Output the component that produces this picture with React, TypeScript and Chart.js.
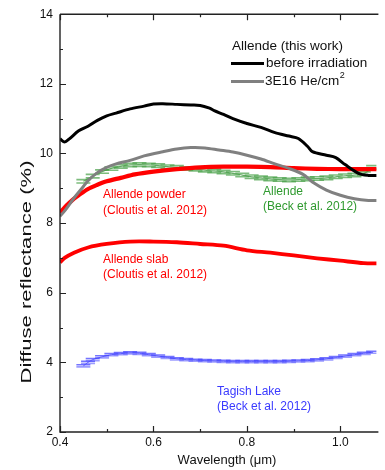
import React, { useEffect, useRef } from "react";
import { Chart, registerables } from "chart.js";

Chart.register(...registerables);

// ---- data ----
const X_BLACK = [0.40,0.41,0.42,0.44,0.46,0.48,0.50,0.52,0.55,0.58,0.60,0.62,0.65,0.68,0.70,0.72,0.73,0.75,0.77,0.80,0.83,0.86,0.89,0.91,0.93,0.94,0.97,0.99,1.01,1.04,1.06,1.08];
const Y_BLACK = [10.42,10.33,10.42,10.65,10.78,10.95,11.08,11.16,11.28,11.36,11.42,11.43,11.41,11.39,11.38,11.3,11.23,11.12,11.0,10.86,10.75,10.6,10.5,10.43,10.2,10.05,9.95,9.88,9.68,9.42,9.37,9.37];

const X_GRAY = [0.40,0.41,0.43,0.45,0.46,0.48,0.50,0.52,0.55,0.58,0.62,0.65,0.68,0.71,0.74,0.77,0.80,0.83,0.86,0.89,0.92,0.94,0.97,1.00,1.03,1.06,1.08];
const Y_GRAY = [8.2,8.35,8.72,9.05,9.22,9.45,9.6,9.7,9.8,9.93,10.05,10.13,10.17,10.16,10.1,10.04,9.95,9.84,9.7,9.57,9.4,9.18,8.95,8.8,8.7,8.65,8.65];

const X_POWDER = [0.40,0.41,0.42,0.43,0.44,0.46,0.48,0.50,0.53,0.56,0.60,0.65,0.70,0.75,0.80,0.85,0.90,0.95,1.00,1.05,1.08];
const Y_POWDER = [8.3,8.45,8.58,8.7,8.8,8.98,9.1,9.2,9.3,9.4,9.48,9.55,9.6,9.62,9.62,9.61,9.58,9.56,9.55,9.55,9.55];

const X_SLAB = [0.40,0.41,0.43,0.46,0.50,0.55,0.60,0.65,0.70,0.75,0.80,0.85,0.90,0.95,1.00,1.05,1.08];
const Y_SLAB = [6.87,7.0,7.15,7.3,7.4,7.47,7.47,7.45,7.4,7.35,7.22,7.15,7.07,6.99,6.92,6.85,6.84];

const X_BECK = [0.45,0.47,0.49,0.51,0.53,0.55,0.57,0.59,0.61,0.63,0.65,0.67,0.69,0.71,0.73,0.75,0.77,0.79,0.81,0.83,0.85,0.87,0.89,0.91,0.93,0.95,0.97,0.99,1.01,1.03,1.05,1.07];
const Y_BECK = [9.2,9.35,9.48,9.57,9.63,9.67,9.68,9.67,9.65,9.62,9.6,9.57,9.55,9.52,9.5,9.47,9.43,9.38,9.33,9.3,9.27,9.25,9.24,9.25,9.27,9.28,9.3,9.33,9.36,9.38,9.42,9.6];

const X_TAGISH = [0.45,0.46,0.47,0.49,0.51,0.53,0.55,0.57,0.59,0.61,0.63,0.65,0.67,0.69,0.71,0.73,0.75,0.77,0.79,0.81,0.83,0.85,0.87,0.89,0.91,0.93,0.95,0.97,0.99,1.01,1.03,1.05,1.07];
const Y_TAGISH = [3.9,4.0,4.08,4.16,4.22,4.25,4.27,4.26,4.22,4.18,4.14,4.1,4.08,4.06,4.05,4.04,4.03,4.02,4.02,4.02,4.02,4.02,4.02,4.03,4.04,4.05,4.07,4.1,4.14,4.18,4.22,4.26,4.29];

const X_MIN = 0.4;
const X_MAX = 1.077;
const Y_MIN = 2;
const Y_MAX = 14;
const X_TICKS = [0.4, 0.5, 0.6, 0.7, 0.8, 0.9, 1.0];
const Y_TICKS = [2, 3, 4, 5, 6, 7, 8, 9, 10, 11, 12, 13, 14];

const FONT = "'Liberation Sans', Arial, sans-serif";

const pts = (xs: number[], ys: number[], dy = 0) => xs.map((x, i) => ({ x, y: ys[i] + dy }));

const framePlugin = {
  id: "frame",
  afterDraw(chart: any) {
    const { ctx, chartArea: a, scales } = chart;
    const xs = scales.x, ys = scales.y;
    ctx.save();
    ctx.strokeStyle = "#222";
    ctx.lineWidth = 1.4;
    ctx.beginPath();
    ctx.moveTo(a.left, a.top);
    ctx.lineTo(a.left, a.bottom);
    ctx.lineTo(a.right + 2, a.bottom);
    ctx.moveTo(a.left, a.top);
    ctx.lineTo(a.right + 2, a.top);
    ctx.stroke();
    ctx.lineWidth = 1.2;
    ctx.beginPath();
    X_TICKS.forEach((v) => {
      const major = Math.round(v * 10) % 2 === 0;
      const len = major ? 6 : 3;
      const px = Math.round(xs.getPixelForValue(v)) + 0.5;
      ctx.moveTo(px, a.bottom);
      ctx.lineTo(px, a.bottom - len);
      ctx.moveTo(px, a.top);
      ctx.lineTo(px, a.top + len);
    });
    Y_TICKS.forEach((v) => {
      const major = v % 2 === 0;
      const len = major ? 6 : 3;
      const py = Math.round(ys.getPixelForValue(v)) + 0.5;
      ctx.moveTo(a.left, py);
      ctx.lineTo(a.left + len, py);
    });
    ctx.stroke();

    // axis titles
    ctx.fillStyle = "#111";
    ctx.textBaseline = "middle";
    ctx.textAlign = "center";
    ctx.font = `13px ${FONT}`;
    ctx.fillText("Wavelength (μm)", 227, 460);

    ctx.save();
    ctx.translate(27, 272);
    ctx.rotate(-Math.PI / 2);
    ctx.font = `15px ${FONT}`;
    const t = "Diffuse reflectance (%)";
    const w = ctx.measureText(t).width;
    ctx.scale(223 / w, 1);
    ctx.fillText(t, 0, 0);
    ctx.restore();

    // legend
    ctx.textAlign = "left";
    ctx.font = `13.5px ${FONT}`;
    ctx.fillStyle = "#111";
    ctx.fillText("Allende (this work)", 232, 46);
    ctx.lineWidth = 3.2;
    ctx.strokeStyle = "#000";
    ctx.beginPath();
    ctx.moveTo(231, 63.5);
    ctx.lineTo(264, 63.5);
    ctx.stroke();
    ctx.fillText("before irradiation", 266, 63);
    ctx.strokeStyle = "#808080";
    ctx.beginPath();
    ctx.moveTo(231, 81.5);
    ctx.lineTo(264, 81.5);
    ctx.stroke();
    ctx.fillText("3E16 He/cm", 265, 81);
    const wc = ctx.measureText("3E16 He/cm").width;
    ctx.font = `9px ${FONT}`;
    ctx.fillText("2", 265 + wc + 0.5, 76);

    // annotations
    ctx.font = `12px ${FONT}`;
    ctx.fillStyle = "#ff0000";
    ctx.fillText("Allende powder", 103, 195);
    ctx.fillText("(Cloutis et al. 2012)", 103, 210.5);
    ctx.fillText("Allende slab", 103, 260);
    ctx.fillText("(Cloutis et al. 2012)", 103, 275);
    ctx.fillStyle = "#2f9a2f";
    ctx.fillText("Allende", 263, 191.5);
    ctx.fillText("(Beck et al. 2012)", 263, 206.5);
    ctx.fillStyle = "#3a3aff";
    ctx.fillText("Tagish Lake", 217, 391.5);
    ctx.fillText("(Beck et al. 2012)", 217, 406.5);
    ctx.restore();
  },
};

export default function App() {
  const ref = useRef<HTMLCanvasElement | null>(null);
  useEffect(() => {
    if (!ref.current) return;
    const line = (data: any[], color: string, width: number) => ({
      data,
      borderColor: color,
      backgroundColor: color,
      borderWidth: width,
      pointRadius: 0,
      tension: 0.3,
      fill: false,
    });
    const dashes = (data: any[], color: string, r: number) => ({
      data,
      showLine: false,
      pointStyle: "line",
      pointRadius: r,
      pointBorderWidth: 1.6,
      pointBorderColor: color,
      backgroundColor: color,
      borderColor: color,
    });
    const chart = new Chart(ref.current, {
      type: "line",
      data: {
        datasets: [
          line(pts(X_BLACK, Y_BLACK), "#000000", 3),
          line(pts(X_GRAY, Y_GRAY), "#808080", 3),
          line(pts(X_POWDER, Y_POWDER), "#ff0000", 4.2),
          line(pts(X_SLAB, Y_SLAB), "#ff0000", 3.8),
          dashes(pts(X_TAGISH, Y_TAGISH, 0.03), "rgba(70,70,255,0.75)", 7),
          dashes(pts(X_TAGISH, Y_TAGISH, -0.03), "rgba(90,90,255,0.6)", 7),
          line(pts(X_TAGISH, Y_TAGISH), "rgba(60,60,255,0.8)", 1),
          dashes(pts(X_BECK, Y_BECK, 0.05), "rgba(70,160,70,0.7)", 7),
          dashes(pts(X_BECK, Y_BECK, -0.05), "rgba(70,160,70,0.7)", 7),
          line(pts(X_BECK, Y_BECK), "rgba(60,150,60,0.8)", 1.2),
        ] as any,
      },
      options: {
        animation: false,
        responsive: false,
        devicePixelRatio: 1,
        layout: { padding: { top: 13, right: 0, left: 0, bottom: 0 } },
        plugins: { legend: { display: false }, tooltip: { enabled: false } },
        scales: {
          x: {
            type: "linear",
            min: X_MIN,
            max: X_MAX,
            grid: { display: false, drawTicks: false },
            border: { display: false },
            ticks: {
              stepSize: 0.2,
              includeBounds: false,
              padding: 3,
              color: "#111",
              font: { family: FONT, size: 12 },
              maxRotation: 0,
              callback: (v: any) => Number(v).toFixed(1),
            },
            afterFit: (s: any) => { s.height = 38; },
          },
          y: {
            type: "linear",
            min: Y_MIN,
            max: Y_MAX,
            grid: { display: false, drawTicks: false },
            border: { display: false },
            ticks: {
              stepSize: 2,
              padding: 7,
              color: "#111",
              font: { family: FONT, size: 12 },
            },
            afterFit: (s: any) => { s.width = 60; },
          },
        },
      } as any,
      plugins: [framePlugin],
    });
    return () => chart.destroy();
  }, []);
  return (
    <div style={{ position: "fixed", left: 0, top: 0, width: 385, height: 470, background: "#fff" }}>
      <canvas ref={ref} width={385} height={470} />
    </div>
  );
}
